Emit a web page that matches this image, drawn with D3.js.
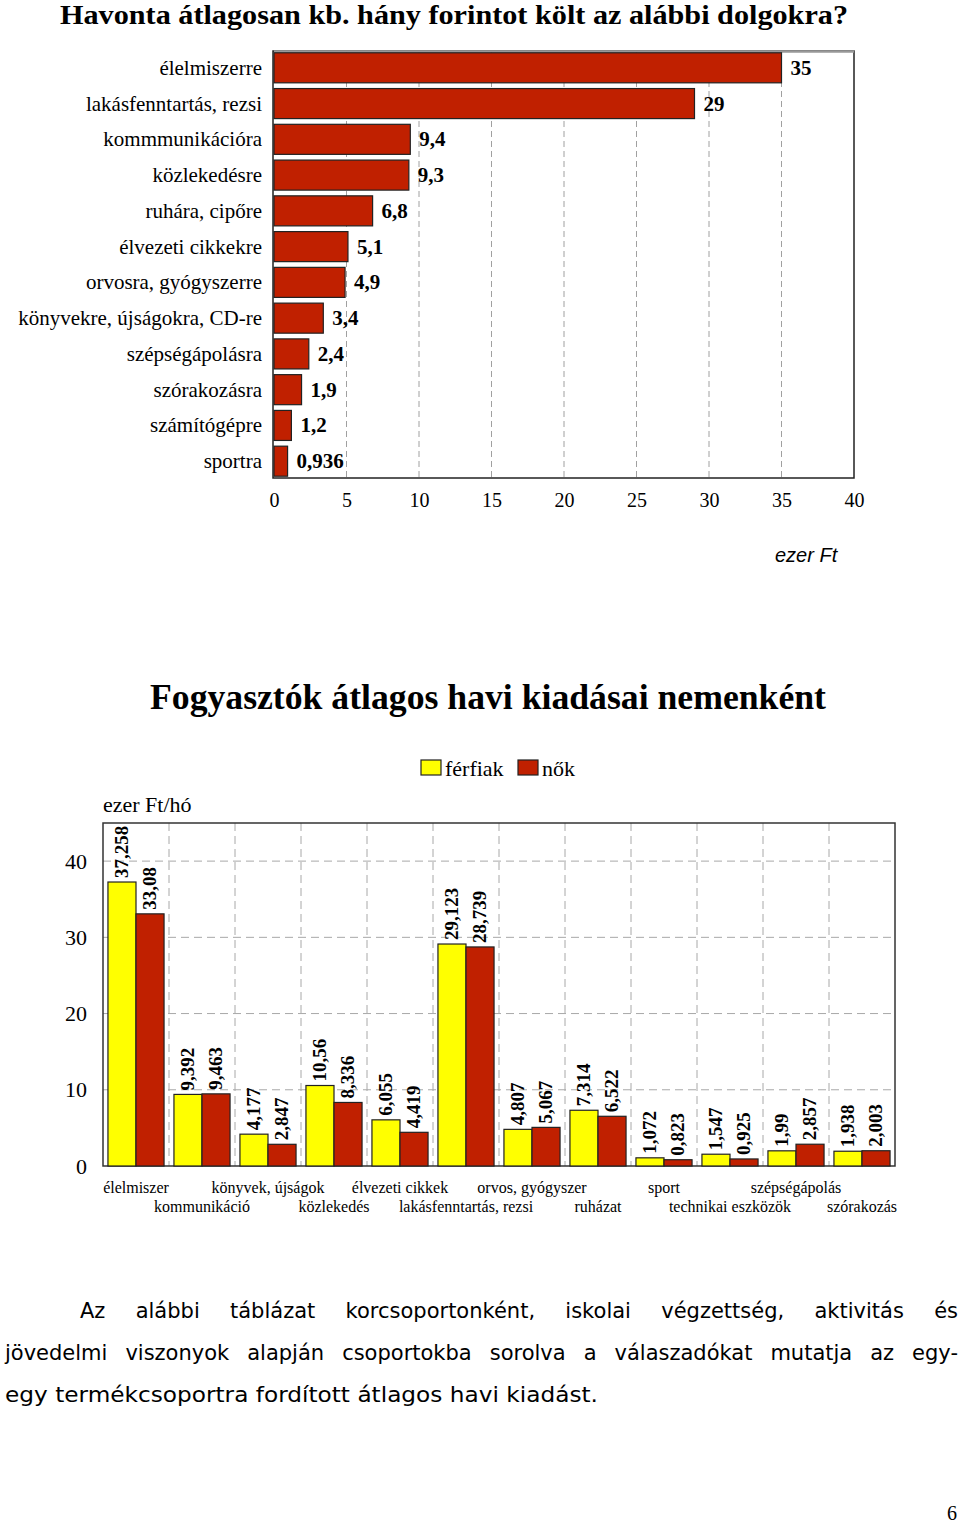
<!DOCTYPE html>
<html>
<head>
<meta charset="utf-8">
<title>Havi kiadások</title>
<style>
  body { margin: 0; background: #fff; }
  svg { display: block; }
  text { fill: #000; }
</style>
</head>
<body>
<svg width="960" height="1523"></svg>
<script src="https://d3js.org/d3.v7.min.js"></script>
<script>

// ---- data: top chart (ezer Ft / hó) ----
var kategoriak = ["élelmiszerre", "lakásfenntartás, rezsi", "kommmunikációra", "közlekedésre",
  "ruhára, cipőre", "élvezeti cikkekre", "orvosra, gyógyszerre", "könyvekre, újságokra, CD-re",
  "szépségápolásra", "szórakozásra", "számítógépre", "sportra"];
var osszeg = [35, 29, 9.4, 9.3, 6.8, 5.1, 4.9, 3.4, 2.4, 1.9, 1.2, 0.936];
var osszegCimke = ["35", "29", "9,4", "9,3", "6,8", "5,1", "4,9", "3,4", "2,4", "1,9", "1,2", "0,936"];
var xTicks1 = [0, 5, 10, 15, 20, 25, 30, 35, 40];

// ---- data: bottom chart (men / women) ----
var csoportok = ["élelmiszer", "kommunikáció", "könyvek, újságok", "közlekedés", "élvezeti cikkek",
  "lakásfenntartás, rezsi", "orvos, gyógyszer", "ruházat", "sport", "technikai eszközök",
  "szépségápolás", "szórakozás"];
var ferfiak = [37.258, 9.392, 4.177, 10.56, 6.055, 29.123, 4.807, 7.314, 1.072, 1.547, 1.99, 1.938];
var nok = [33.08, 9.463, 2.847, 8.336, 4.419, 28.739, 5.067, 6.522, 0.823, 0.925, 2.857, 2.003];
var sorozatok = ["férfiak", "nők"];
var yTicks2 = [0, 10, 20, 30, 40];

var piros = "#c02000", sarga = "#ffff00";
var serif = "'Liberation Serif', 'Times New Roman', serif";
var fmt = function(v) { return String(v).replace(".", ","); };

var svg = d3.select("svg");

// ================= chart 1 =================
svg.append("text")
    .attr("x", 60).attr("y", 24)
    .style("font-family", serif)
    .attr("font-size", 28).attr("font-weight", "bold")
    .attr("textLength", 788).attr("lengthAdjust", "spacingAndGlyphs")
    .text("Havonta átlagosan kb. hány forintot költ az alábbi dolgokra?");

var x1 = d3.scaleLinear().domain([0, 40]).range([274, 854]);
var y1 = d3.scaleBand().domain(kategoriak).range([51, 478]).paddingInner(0.16).paddingOuter(0.05);

var g1 = svg.append("g");

g1.selectAll("line.grid")
  .data(xTicks1.slice(1, -1))
  .enter().append("line")
    .attr("class", "grid")
    .attr("x1", function(d) { return x1(d); })
    .attr("x2", function(d) { return x1(d); })
    .attr("y1", 51).attr("y2", 478)
    .attr("stroke", "#a0a0a0")
    .attr("stroke-dasharray", "6,4");

g1.append("rect")
    .attr("x", x1(0) - 1).attr("y", 51)
    .attr("width", x1(40) - x1(0) + 1).attr("height", 427)
    .attr("fill", "none").attr("stroke", "#222").attr("stroke-width", 1.5);
g1.append("line")
    .attr("x1", x1(0)).attr("x2", x1(40))
    .attr("y1", 51.5).attr("y2", 51.5)
    .attr("stroke", "#999").attr("stroke-width", 2.5);

g1.selectAll("rect.bar")
  .data(osszeg)
  .enter().append("rect")
    .attr("class", "bar")
    .attr("x", x1(0))
    .attr("y", function(d, i) { return y1(kategoriak[i]); })
    .attr("width", function(d) { return x1(d) - x1(0); })
    .attr("height", y1.bandwidth())
    .attr("fill", piros)
    .attr("stroke", "#222").attr("stroke-width", 1.2);

g1.selectAll("text.val")
  .data(osszeg)
  .enter().append("text")
    .attr("class", "val")
    .attr("x", function(d) { return x1(d) + 9; })
    .attr("y", function(d, i) { return y1(kategoriak[i]) + y1.bandwidth() / 2 + 7; })
    .style("font-family", serif)
    .attr("font-size", 21).attr("font-weight", "bold")
    .text(function(d, i) { return osszegCimke[i]; });

g1.selectAll("text.cat")
  .data(kategoriak)
  .enter().append("text")
    .attr("class", "cat")
    .attr("x", 262)
    .attr("y", function(d) { return y1(d) + y1.bandwidth() / 2 + 7; })
    .attr("text-anchor", "end")
    .style("font-family", serif)
    .attr("font-size", 21)
    .text(function(d) { return d; });

var ax1 = g1.append("g")
    .attr("transform", "translate(0,478)")
    .call(d3.axisBottom(x1).tickValues(xTicks1).tickSize(0).tickPadding(15).tickFormat(d3.format("d")));
ax1.select(".domain").remove();
ax1.selectAll("text")
    .style("font-family", serif)
    .attr("font-size", 20).attr("fill", "#000");

svg.append("text")
    .attr("x", 775).attr("y", 562)
    .style("font-family", "'Liberation Sans', Arial, sans-serif")
    .attr("font-style", "italic").attr("font-size", 20)
    .text("ezer Ft");

// ================= chart 2 =================
svg.append("text")
    .attr("x", 150).attr("y", 709)
    .style("font-family", serif)
    .attr("font-size", 36).attr("font-weight", "bold")
    .attr("textLength", 676).attr("lengthAdjust", "spacingAndGlyphs")
    .text("Fogyasztók átlagos havi kiadásai nemenként");

var szin = d3.scaleOrdinal().domain(sorozatok).range([sarga, piros]);

var leg = svg.append("g").attr("transform", "translate(421,760)");
var legX = [0, 97];
sorozatok.forEach(function(s, i) {
  leg.append("rect")
      .attr("x", legX[i]).attr("y", 0).attr("width", 20).attr("height", 15)
      .attr("fill", szin(s)).attr("stroke", "#222").attr("stroke-width", 1.2);
  leg.append("text")
      .attr("x", legX[i] + 24).attr("y", 16)
      .style("font-family", serif)
      .attr("font-size", 22)
      .text(s);
});

svg.append("text")
    .attr("x", 103).attr("y", 812)
    .style("font-family", serif)
    .attr("font-size", 22)
    .text("ezer Ft/hó");

var pLeft = 103, pRight = 895, pTop = 823, pBottom = 1166;
var x2 = d3.scaleBand().domain(csoportok).range([pLeft, pRight]).paddingInner(0.15).paddingOuter(0.075);
var xs = d3.scaleBand().domain(sorozatok).range([0, x2.bandwidth()]);
var y2 = d3.scaleLinear().domain([0, 45]).range([pBottom, pTop]);

var g2 = svg.append("g");
var step = x2.step();

g2.selectAll("line.hgrid")
  .data(yTicks2.slice(1))
  .enter().append("line")
    .attr("class", "hgrid")
    .attr("x1", pLeft).attr("x2", pRight)
    .attr("y1", function(d) { return y2(d); })
    .attr("y2", function(d) { return y2(d); })
    .attr("stroke", "#a8a8a8").attr("stroke-dasharray", "8,5");

g2.selectAll("line.vgrid")
  .data(d3.range(1, csoportok.length))
  .enter().append("line")
    .attr("class", "vgrid")
    .attr("x1", function(i) { return pLeft + step * i; })
    .attr("x2", function(i) { return pLeft + step * i; })
    .attr("y1", pTop).attr("y2", pBottom)
    .attr("stroke", "#a8a8a8").attr("stroke-dasharray", "8,5");

g2.append("rect")
    .attr("x", pLeft).attr("y", pTop)
    .attr("width", pRight - pLeft).attr("height", pBottom - pTop)
    .attr("fill", "none").attr("stroke", "#333").attr("stroke-width", 1.5);

var sor = csoportok.map(function(c, i) {
  return { cat: c, vals: [{ s: "férfiak", v: ferfiak[i] }, { s: "nők", v: nok[i] }] };
});

var grp = g2.selectAll("g.grp")
  .data(sor)
  .enter().append("g")
    .attr("class", "grp")
    .attr("transform", function(d) { return "translate(" + x2(d.cat) + ",0)"; });

grp.selectAll("rect")
  .data(function(d) { return d.vals; })
  .enter().append("rect")
    .attr("x", function(d) { return xs(d.s); })
    .attr("y", function(d) { return y2(d.v); })
    .attr("width", xs.bandwidth())
    .attr("height", function(d) { return pBottom - y2(d.v); })
    .attr("fill", function(d) { return szin(d.s); })
    .attr("stroke", "#222").attr("stroke-width", 1.2);

grp.selectAll("text")
  .data(function(d) { return d.vals; })
  .enter().append("text")
    .attr("transform", function(d) {
      return "translate(" + (xs(d.s) + xs.bandwidth() / 2 + 6) + "," + (y2(d.v) - 4) + ") rotate(-90)";
    })
    .style("font-family", serif)
    .attr("font-size", 19).attr("font-weight", "bold")
    .text(function(d) { return fmt(d.v); });

var ay2 = g2.append("g")
    .attr("transform", "translate(" + pLeft + ",0)")
    .call(d3.axisLeft(y2).tickValues(yTicks2).tickSize(0).tickPadding(16));
ay2.select(".domain").remove();
ay2.selectAll("text")
    .style("font-family", serif)
    .attr("font-size", 22).attr("fill", "#000");

g2.selectAll("text.xcat")
  .data(csoportok)
  .enter().append("text")
    .attr("class", "xcat")
    .attr("x", function(d) { return x2(d) + x2.bandwidth() / 2; })
    .attr("y", function(d, i) { return i % 2 === 0 ? 1193 : 1212; })
    .attr("text-anchor", "middle")
    .style("font-family", serif)
    .attr("font-size", 16)
    .text(function(d) { return d; });

// ================= paragraph =================
var bekezdes = [
  { s: "Az alábbi táblázat korcsoportonként, iskolai végzettség, aktivitás és", x0: 80, x1: 958, y: 1318, justify: true },
  { s: "jövedelmi viszonyok alapján csoportokba sorolva a válaszadókat mutatja az egy-", x0: 5, x1: 958, y: 1360, justify: true },
  { s: "egy termékcsoportra fordított átlagos havi kiadást.", x0: 5, x1: 598, y: 1402, justify: false }
];
bekezdes.forEach(function(l) {
  var words = l.s.split(" ");
  var tmp = words.map(function(w) {
    return svg.append("text")
        .style("font-family", "'DejaVu Sans', Verdana, sans-serif")
        .attr("font-size", 21).attr("fill", "#111")
        .attr("y", l.y).text(w);
  });
  var widths = tmp.map(function(t) { return t.node().getComputedTextLength(); });
  var total = d3.sum(widths);
  var scale = 1;
  var gap;
  if (l.justify) {
    gap = (l.x1 - l.x0 - total) / (words.length - 1);
  } else {
    var sp = 21 * 0.32;
    scale = (l.x1 - l.x0) / (total + sp * (words.length - 1));
    gap = sp * scale;
  }
  var cx = l.x0;
  tmp.forEach(function(t, i) {
    t.attr("x", cx);
    if (scale !== 1) t.attr("textLength", widths[i] * scale).attr("lengthAdjust", "spacingAndGlyphs");
    cx += widths[i] * scale + gap;
  });
});

svg.append("text")
    .attr("x", 957).attr("y", 1520)
    .attr("text-anchor", "end")
    .style("font-family", serif)
    .attr("font-size", 20)
    .text("6");

</script>
</body>
</html>
